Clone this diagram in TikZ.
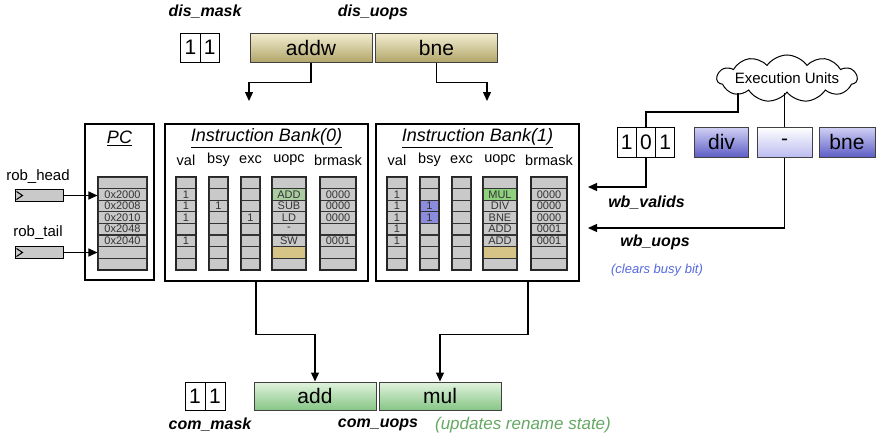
\documentclass[tikz,border=0pt]{standalone}
\usepackage{fontspec}
\setmainfont{Liberation Sans}
\usepackage{tikz}
\usetikzlibrary{shapes}
\usetikzlibrary{shapes.symbols}
\usetikzlibrary{arrows.meta}
\usetikzlibrary{calc}
\definecolor{olivetop}{HTML}{F3EED2}
\definecolor{olivebot}{HTML}{B2A66A}
\definecolor{greentop}{HTML}{E2F3DE}
\definecolor{greenbot}{HTML}{86C686}
\definecolor{bluetop}{HTML}{D2D2F6}
\definecolor{bluebot}{HTML}{5E5EC6}
\definecolor{palebot}{HTML}{BCBCF0}
\definecolor{cellgray}{HTML}{C9C9C9}
\definecolor{celltan}{HTML}{D6C486}
\definecolor{cellgreen}{HTML}{8ED07E}
\definecolor{cellblue}{HTML}{8C8CDC}
\definecolor{notegreen}{HTML}{63A863}
\definecolor{noteblue}{HTML}{5468E0}
\tikzstyle{sig}=[font=\fontsize{16}{16}\selectfont\bfseries\itshape]
\tikzstyle{plain}=[font=\fontsize{15}{15}\selectfont]
\tikzstyle{bit}=[draw,line width=1pt,minimum width=19.3,minimum height=29,
        inner sep=0,fill=white,font=\fontsize{21}{21}\selectfont]
\tikzstyle{uop}=[draw=black!75,line width=1pt,minimum width=122,minimum height=29,
        inner sep=0,font=\fontsize{21}{21}\selectfont]
\tikzstyle{disp}=[uop,top color=olivetop,bottom color=olivebot]
\tikzstyle{comm}=[uop,top color=greentop,bottom color=greenbot]
\tikzstyle{fu}=[uop,minimum width=54,top color=bluetop,bottom color=bluebot]
\tikzstyle{fuidle}=[uop,minimum width=55,top color=white,bottom color=palebot]
\tikzstyle{frame}=[draw,line width=1.2pt,inner sep=0]
\tikzstyle{title}=[font=\fontsize{18}{18}\selectfont\itshape]
\tikzstyle{colhead}=[font=\fontsize{14.5}{14.5}\selectfont]
\tikzstyle{cell}=[draw=black!80,line width=1.1pt,fill=cellgray,minimum height=11.6,
        inner sep=0,text=black!80,font=\fontsize{11}{11}\selectfont]
\tikzstyle{colframe}=[draw=black!85,line width=1.8pt]
\tikzstyle{ptr}=[draw,line width=1pt,fill=cellgray,minimum width=48,minimum height=12,inner sep=0]
\tikzstyle{suite}=[-{Triangle[length=9pt,width=8pt]},line width=1.3pt]
\tikzstyle{wire}=[line width=1.3pt]
\begin{document}
\begin{tikzpicture}[x=1pt,y=-1pt]
\useasboundingbox (0,0) rectangle (892,439);
%dispatch
\node[sig] (dismask) at (205,12) {dis\_mask};
\node[sig] (disuops) at (373,12) {dis\_uops};
\node[bit] (dm0) at (190.5,47.5) {1};
\node[bit] (dm1) at (209.8,47.5) {1};
\node[disp] (addw) at (311,47.5) {addw};
\node[disp] (bne) at (436.5,47.5) {bne};
\coordinate (in0) at (249,101);
\coordinate (in1) at (487,101);
%rob pointers and pc
\node[plain] (robhead) at (38,177) {rob\_head};
\node[plain] (robtail) at (38,233) {rob\_tail};
\node[ptr] (headptr) at (39,195.5) {};
\node[ptr] (tailptr) at (39,252.5) {};
\draw[line width=1pt] ($(headptr.west)+(2,-4)$) -- ($(headptr.west)+(8,0)$) -- ($(headptr.west)+(2,4)$);
\draw[line width=1pt] ($(tailptr.west)+(2,-4)$) -- ($(tailptr.west)+(8,0)$) -- ($(tailptr.west)+(2,4)$);
\node[frame,minimum width=69,minimum height=156] (pcbox) at (119.5,202) {};
\node[title] (pctitle) at (119.5,138) {\underline{PC}};
\foreach \row/\txt in {1/{},2/0x2000,3/0x2008,4/0x2010,5/0x2048,6/0x2040,7/{},8/{}}
  \node[cell,minimum width=49] (pc\row) at (122.5,171.2+11.6*\row) {\txt};
\draw[colframe] (pc1.north west) rectangle (pc8.south east);
%bank 0
\node[frame,minimum width=203,minimum height=157] (bank0) at (266.5,202.5) {};
\node[title] (title0) at (266.5,138) {\underline{Instruction Bank(0)}};
\foreach \col/\cx in {val/186,bsy/218.5,exc/250.5,uopc/289,brmask/338}
  \node[colhead] (h0\col) at (\cx,160) {\col};
\foreach \row/\txt in {1/{},2/1,3/1,4/1,5/{},6/1,7/{},8/{}}
  \node[cell,minimum width=19] (b0val\row) at (186,171.2+11.6*\row) {\txt};
\foreach \row/\txt in {1/{},2/{},3/1,4/{},5/{},6/{},7/{},8/{}}
  \node[cell,minimum width=19] (b0bsy\row) at (218.5,171.2+11.6*\row) {\txt};
\foreach \row/\txt in {1/{},2/{},3/{},4/1,5/{},6/{},7/{},8/{}}
  \node[cell,minimum width=19] (b0exc\row) at (250.5,171.2+11.6*\row) {\txt};
\foreach \row/\txt/\clr in {1/{}/cellgray,2/ADD/cellgreen!55!cellgray,3/SUB/cellgray,4/LD/cellgray,
    5/-/cellgray,6/SW/cellgray,7/{}/celltan,8/{}/cellgray}
  \node[cell,minimum width=34,fill=\clr] (b0uopc\row) at (289,171.2+11.6*\row) {\txt};
\foreach \row/\txt in {1/{},2/0000,3/0000,4/0000,5/{},6/0001,7/{},8/{}}
  \node[cell,minimum width=35] (b0brmask\row) at (338,171.2+11.6*\row) {\txt};
\foreach \col in {val,bsy,exc,uopc,brmask}
  \draw[colframe] (b0\col1.north west) rectangle (b0\col8.south east);
%bank 1
\node[frame,minimum width=203,minimum height=157] (bank1) at (477.5,202.5) {};
\node[title] (title1) at (477.5,138) {\underline{Instruction Bank(1)}};
\foreach \col/\cx in {val/397,bsy/429.5,exc/461.5,uopc/500,brmask/549}
  \node[colhead] (h1\col) at (\cx,160) {\col};
\foreach \row/\txt in {1/{},2/1,3/1,4/1,5/1,6/1,7/{},8/{}}
  \node[cell,minimum width=19] (b1val\row) at (397,171.2+11.6*\row) {\txt};
\foreach \row/\txt/\clr in {1/{}/cellgray,2/{}/cellgray,3/1/cellblue,4/1/cellblue,
    5/{}/cellgray,6/{}/cellgray,7/{}/cellgray,8/{}/cellgray}
  \node[cell,minimum width=19,fill=\clr] (b1bsy\row) at (429.5,171.2+11.6*\row) {\txt};
\foreach \row in {1,...,8}
  \node[cell,minimum width=19] (b1exc\row) at (461.5,171.2+11.6*\row) {};
\foreach \row/\txt/\clr in {1/{}/cellgray,2/MUL/cellgreen,3/DIV/cellgray,4/BNE/cellgray,
    5/ADD/cellgray,6/ADD/cellgray,7/{}/celltan,8/{}/cellgray}
  \node[cell,minimum width=34,fill=\clr] (b1uopc\row) at (500,171.2+11.6*\row) {\txt};
\foreach \row/\txt in {1/{},2/0000,3/0000,4/0000,5/0001,6/0001,7/{},8/{}}
  \node[cell,minimum width=35] (b1brmask\row) at (549,171.2+11.6*\row) {\txt};
\foreach \col in {val,bsy,exc,uopc,brmask}
  \draw[colframe] (b1\col1.north west) rectangle (b1\col8.south east);
%writeback
\node[cloud,draw,line width=1pt,fill=white,cloud puffs=11,cloud puff arc=110,aspect=3,
  minimum width=140,minimum height=47,inner sep=0] (eu) at (787,78.5) {};
\node[font=\fontsize{15}{15}\selectfont] (eutext) at (787,78.5) {Execution Units};
\node[bit,minimum height=30] (v0) at (626.7,142) {1};
\node[bit,minimum height=30] (v1) at (646,142) {0};
\node[bit,minimum height=30] (v2) at (665.3,142) {1};
\node[fu,minimum height=30] (div) at (721.5,142) {div};
\node[fuidle,minimum height=30] (minus) at (784.5,142) {-};
\node[fu,minimum width=56,minimum height=30] (bnewb) at (847,142) {bne};
\coordinate (eutap) at (738,112);
\coordinate (wbv) at (588,187);
\coordinate (wbu) at (588,228);
\node[sig] (wbvalids) at (646.5,203) {wb\_valids};
\node[sig] (wbuops) at (655,242) {wb\_uops};
\node[font=\fontsize{13}{13}\selectfont\itshape,text=noteblue] (clears) at (657,270) {(clears busy bit)};
%commit
\node[bit,minimum width=20,minimum height=28] (cm0) at (195,396) {1};
\node[bit,minimum width=20,minimum height=28] (cm1) at (215,396) {1};
\node[comm,minimum height=28] (add) at (315,396) {add};
\node[comm,minimum height=28] (mul) at (440,396) {mul};
\node[sig] (commask) at (210,425) {com\_mask};
\node[sig] (comuops) at (378,425) {com\_uops};
\node[font=\fontsize{17}{17}\selectfont\itshape,text=notegreen] (updates) at (523,425) {(updates rename state)};
%Placement des fleches
\draw[suite] (addw.south) -- ++(0,20) -| (in0);
\draw[suite] (bne.south) -- ++(0,20) -| (in1);
\draw[suite] (headptr.east) -- (headptr.east -| pc2.west);
\draw[suite] (tailptr.east) -- (tailptr.east -| pc7.west);
\draw[wire] (v1.north) |- (eutap) -- (eutap |- eu.south);
\draw[wire] (minus.north) -- (minus.north |- eu.south);
\draw[suite] (v1.south) |- (wbv);
\draw[suite] (minus.south) |- (wbu);
\draw[suite] ($(bank0.south)+(-10.5,0)$) -- ++(0,53) -| (add.north);
\draw[suite] ($(bank1.south)+(50.5,0)$) -- ++(0,53) -| (mul.north);
\end{tikzpicture}
\end{document}
